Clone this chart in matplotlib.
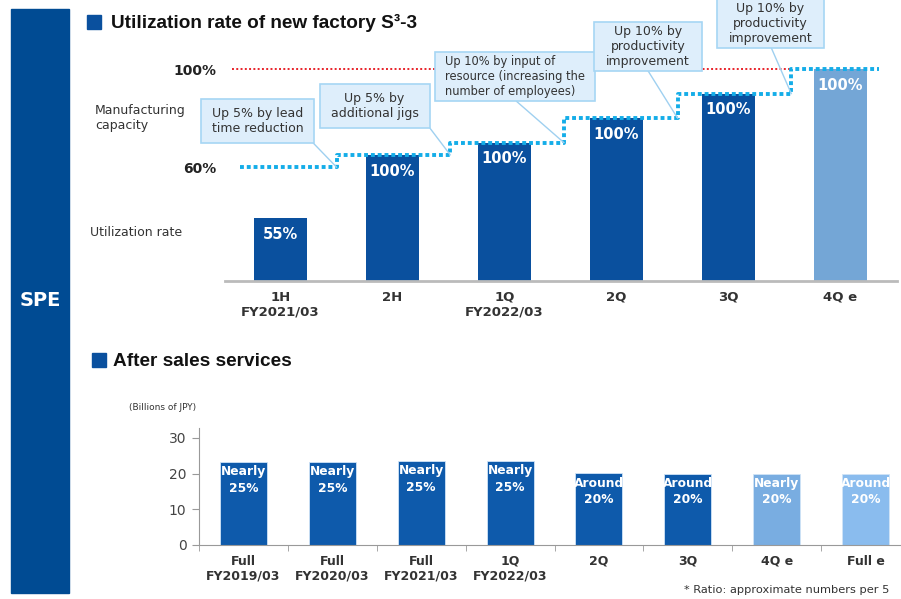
import matplotlib
matplotlib.use("Agg")
import matplotlib.pyplot as plt
from matplotlib.patches import Rectangle

# Utilization of new factory S3-3 (capacity level and utilization per period)
periods = ["1H\nFY2021/03", "2H", "1Q\nFY2022/03", "2Q", "3Q", "4Q e"]
capacity = [60, 65, 70, 80, 90, 100]
utilization = [55, 100, 100, 100, 100, 100]
is_estimate = [False, False, False, False, False, True]
steps_text = [
    "Up 5% by lead\ntime reduction",
    "Up 5% by\nadditional jigs",
    "Up 10% by input of\nresource (increasing the\nnumber of employees)",
    "Up 10% by\nproductivity\nimprovement",
    "Up 10% by\nproductivity\nimprovement",
]

# After sales services (billions of JPY) with ratio labels
service_periods = ["Full\nFY2019/03", "Full\nFY2020/03", "Full\nFY2021/03", "1Q\nFY2022/03",
                   "2Q", "3Q", "4Q e", "Full e"]
service_sales = [23.2, 23.2, 23.6, 23.6, 20.1, 20.0, 20.0, 20.0]
service_ratio = ["Nearly\n25%", "Nearly\n25%", "Nearly\n25%", "Nearly\n25%",
                 "Around\n20%", "Around\n20%", "Nearly\n20%", "Around\n20%"]

W, H = 901, 599
NAVY = "#004b93"
DARK = "#0a509e"
TEXT = "#333333"

plt.rcParams["font.family"] = ["DejaVu Sans"]

fig = plt.figure(figsize=(W / 100, H / 100), dpi=100)


def rect(x0, y0, x1, y1):
    return [x0 / W, 1 - y1 / H, (x1 - x0) / W, (y1 - y0) / H]


# ---- top chart ----
base = 13.5
ax = fig.add_axes(rect(224.5, 0, 896.5, 281))
ax.patch.set_visible(False)
ax.set_xlim(-0.5, 5.5)
ax.set_ylim(base, base + 281 / 2.45)

x = list(range(len(periods)))
tops = [base + u / 100 * (c - base) for u, c in zip(utilization, capacity)]
colors = ["#74a6d6" if e else DARK for e in is_estimate]
ax.bar(x, [t - base for t in tops], bottom=base, width=0.47, color=colors, zorder=2)
for xi, t, u in zip(x, tops, utilization):
    ax.text(xi, t - 3.6, f"{u}%", ha="center", va="top", color="white",
            fontsize=10.5, fontweight="bold", zorder=3)

# capacity step line
step_x = [i + 0.5 + 0.015 * i for i in range(len(capacity) - 1)]
line_x = [-0.36] + step_x + [5.34]
line_y = capacity + [capacity[-1]]
ax.plot(line_x, line_y, drawstyle="steps-post", color="#14ade8", lw=2.8,
        linestyle=(0, (1, 0.75)), zorder=4)
ax.plot([-0.43, step_x[-1]], [100, 100], color="#e8222a", lw=1.4,
        linestyle=(0, (1, 1.2)), zorder=1)

ax.set_yticks([60, 100], ["60%", "100%"])
ax.set_xticks(x, periods)
ax.tick_params(axis="y", length=0, pad=5.5, labelsize=10, labelcolor="#222222")
ax.tick_params(axis="x", length=0, pad=7, labelsize=9.5, labelcolor=TEXT)
for lab in ax.get_xticklabels() + ax.get_yticklabels():
    lab.set_fontweight("bold")
for s in ["top", "right", "left"]:
    ax.spines[s].set_visible(False)
ax.spines["bottom"].set_color("#bbbbbb")
ax.spines["bottom"].set_linewidth(2)

# step annotations: text first, then a box and leader line fitted around it
box_pos = [(-0.205, 78.8), (0.84, 85.1), (1.469, 96.8), (3.28, 109.4), (4.375, 118.4)]
rel = [0.99, 1.0, 0.51, 0.5, 0.51]
sizes = [9, 9, 8.3, 9, 9]
pads = [(11, 8), (11, 8), (10, 3), (12, 3), (12, 3)]
notes = []
for i, (txt, (bx, by)) in enumerate(zip(steps_text, box_pos)):
    notes.append(ax.text(bx, by, txt, ha="left" if i == 2 else "center", va="center",
                         fontsize=sizes[i], color=TEXT, zorder=6, linespacing=1.2))

fig.canvas.draw()
renderer = fig.canvas.get_renderer()
inv = ax.transData.inverted()
for i, t in enumerate(notes):
    bb = t.get_window_extent(renderer)
    px, py = pads[i]
    (x0, y0), (x1, y1) = inv.transform([(bb.x0 - px, bb.y0 - py), (bb.x1 + px, bb.y1 + py)])
    ax.add_patch(Rectangle((x0, y0), x1 - x0, y1 - y0, fc="#deeefb", ec="#a6d6f4",
                           lw=1.2, zorder=5, clip_on=False))
    sx0 = x0 + rel[i] * (x1 - x0)
    ax.plot([sx0, step_x[i]], [y0, capacity[i]], color="#9fd0f0", lw=1,
            zorder=4.5, clip_on=False)

# ---- bottom chart ----
bx_ = fig.add_axes(rect(199, 428, 910, 545))
bx_.patch.set_visible(False)
bx_.set_xlim(-0.5, 7.5)
bx_.set_ylim(0, 32.8)
sx = list(range(len(service_periods)))
scolors = ["#0e5aab"] * 6 + ["#79ade1", "#8abcee"]
bx_.bar(sx, service_sales, width=0.53, color=scolors, edgecolor="#d0e4f7", lw=0.6, zorder=2)
for xi, v, r in zip(sx, service_sales, service_ratio):
    bx_.text(xi, v - 0.9, r, ha="center", va="top", color="white", fontsize=8.8,
             fontweight="bold", linespacing=1.35, zorder=3)

bx_.set_yticks([0, 10, 20, 30])
bx_.set_xticks(sx, service_periods)
bx_.set_xticks([i - 0.5 for i in range(len(sx) + 1)], minor=True)
bx_.tick_params(axis="y", length=5, color="#999999", labelsize=10, labelcolor="#444444", pad=4)
bx_.tick_params(axis="x", which="major", length=0, pad=7, labelsize=9, labelcolor=TEXT)
bx_.tick_params(axis="x", which="minor", length=4, color="#999999")
for lab in bx_.get_xticklabels():
    lab.set_fontweight("bold")
for s in ["top", "right"]:
    bx_.spines[s].set_visible(False)
for s in ["left", "bottom"]:
    bx_.spines[s].set_color("#999999")

# left band, section headers and side labels
band = fig.add_axes([0, 0, 1, 1])
band.patch.set_visible(False)
band.set_xlim(0, W)
band.set_ylim(H, 0)
band.axis("off")
band.add_patch(Rectangle((11, 9), 58, 584, color=NAVY))
band.text(40, 300, "SPE", color="white", fontsize=14, fontweight="bold",
          ha="center", va="center")

for sq, tx, label in [((87, 15), (111, 23), "Utilization rate of new factory S³-3"),
                      ((92, 353), (113, 361), "After sales services")]:
    band.add_patch(Rectangle(sq, 14, 14, color=DARK))
    band.text(tx[0], tx[1], label, fontsize=13.7, fontweight="bold", color="#111111",
              ha="left", va="center", family=["Liberation Sans"])

band.text(95, 118, "Manufacturing\ncapacity", fontsize=9, color=TEXT, va="center")
band.text(90, 233, "Utilization rate", fontsize=9, color=TEXT, va="center")
band.text(129, 408, "(Billions of JPY)", fontsize=6.5, color=TEXT, va="center")
band.text(684, 590, "* Ratio: approximate numbers per 5", fontsize=8.2, color=TEXT,
          va="center")

fig.savefig("out.png", dpi=100)
